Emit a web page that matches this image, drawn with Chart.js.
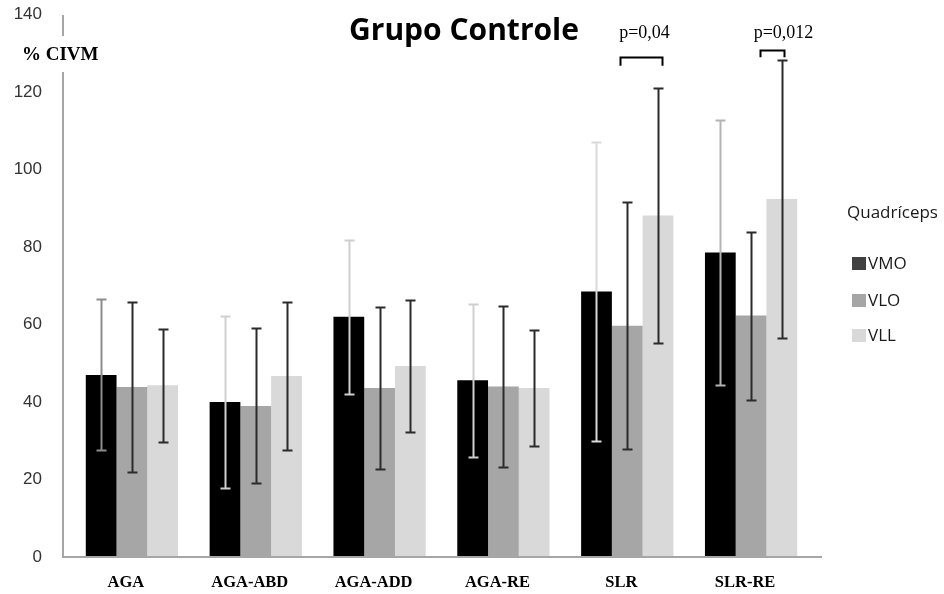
<!DOCTYPE html>
<html>
<head>
<meta charset="utf-8">
<script src="https://cdn.jsdelivr.net/npm/chart.js@4"></script>
<style>
  html, body { margin: 0; padding: 0; background: #fff; }
  #wrap { width: 944px; height: 594px; }
</style>
</head>
<body>
<div id="wrap"><canvas id="myChart"></canvas></div>
<script>
const categories = ['AGA', 'AGA-ABD', 'AGA-ADD', 'AGA-RE', 'SLR', 'SLR-RE'];
const seriesNames = ['VMO', 'VLO', 'VLL'];

// means (% CIVM)
const vmo = [47.0, 40.0, 62.0, 45.6, 68.5, 78.6];
const vlo = [43.9, 39.0, 43.6, 44.0, 59.7, 62.3];
const vll = [44.3, 46.7, 49.3, 43.6, 88.1, 92.4];

// standard deviations (error bar half-length)
const vmoSd = [19.5, 22.2, 19.9, 19.8, 38.6, 34.3];
const vloSd = [22.0, 20.0, 20.8, 20.9, 31.8, 21.7];
const vllSd = [14.6, 19.2, 17.1, 15.0, 33.0, 35.8];

const yTicks = [0, 20, 40, 60, 80, 100, 120, 140];

// significance brackets
const brackets = [
  { cat: 4, text: 'p=0,04', top: 129.1, leg: 126.8, dx1: -7, dx2: 4, dt: 3 },
  { cat: 5, text: 'p=0,012', top: 130.8, leg: 129.0, dx1: 9, dx2: 2, dt: 11 }
];

const barColors = ['#000000', '#a6a6a6', '#d9d9d9'];
const vmoErrColors = ['#8c8c8c', '#cfcfcf', '#cfcfcf', '#cfcfcf', '#dadada', '#b4b4b4'];

const extras = {
  id: 'extras',
  afterDatasetsDraw(chart) {
    const ctx = chart.ctx;
    const y = chart.scales.y;
    const sds = [vmoSd, vloSd, vllSd];
    ctx.save();

    // axis lines (Excel-style: y axis a bit left of the first group)
    const y0 = Math.round(y.getPixelForValue(0));
    const yTop = Math.round(y.getPixelForValue(140));
    ctx.strokeStyle = '#a6a6a6';
    ctx.lineWidth = 2;
    ctx.beginPath();
    ctx.moveTo(63, yTop); ctx.lineTo(63, y0);
    ctx.moveTo(62, y0); ctx.lineTo(822, y0);
    ctx.stroke();

    chart.data.datasets.forEach((ds, d) => {
      const meta = chart.getDatasetMeta(d);
      meta.data.forEach((bar, i) => {
        const v = ds.data[i];
        const sd = sds[d][i];
        const yt = Math.round(y.getPixelForValue(v + sd)) + 0.5;
        const yb = Math.round(y.getPixelForValue(v - sd)) + 0.5;
        const x = Math.round(bar.x) + 0.5;
        ctx.strokeStyle = d === 0 ? vmoErrColors[i] : '#2b2b2b';
        ctx.lineWidth = 2;
        ctx.beginPath();
        ctx.moveTo(x, yt); ctx.lineTo(x, yb);
        ctx.moveTo(x - 5, yt); ctx.lineTo(x + 5, yt);
        ctx.moveTo(x - 5, yb); ctx.lineTo(x + 5, yb);
        ctx.stroke();
      });
    });

    // brackets
    brackets.forEach(b => {
      const x1 = Math.round(chart.getDatasetMeta(1).data[b.cat].x + b.dx1) + 0.5;
      const x2 = Math.round(chart.getDatasetMeta(2).data[b.cat].x + b.dx2) + 0.5;
      const yt = Math.round(y.getPixelForValue(b.top)) + 0.5;
      const yl = y.getPixelForValue(b.leg);
      ctx.strokeStyle = '#000';
      ctx.lineWidth = 2;
      ctx.beginPath();
      ctx.moveTo(x1, yl); ctx.lineTo(x1, yt); ctx.lineTo(x2, yt); ctx.lineTo(x2, yl);
      ctx.stroke();
      ctx.fillStyle = '#000';
      ctx.font = '18px "Liberation Serif"';
      ctx.textAlign = 'center';
      ctx.textBaseline = 'middle';
      ctx.fillText(b.text, (x1 + x2) / 2 + b.dt, 33);
    });

    // title
    ctx.font = 'bold 30px "Open Sans"';
    ctx.fillStyle = '#000';
    ctx.textAlign = 'center';
    ctx.textBaseline = 'middle';
    ctx.fillText('Grupo Controle', 464, 31);

    // y axis title over the axis line
    ctx.fillStyle = '#fff';
    ctx.fillRect(20, 36, 82, 36);
    ctx.fillStyle = '#000';
    ctx.font = 'bold 19px "Liberation Serif"';
    ctx.textAlign = 'left';
    ctx.fillText('% CIVM', 22, 55);

    // legend
    ctx.font = '17px "Open Sans"';
    ctx.fillStyle = '#1a1a1a';
    ctx.fillText('Quadríceps', 847, 213);
    const ly = [264, 301, 336];
    seriesNames.forEach((n, i) => {
      ctx.fillStyle = i === 0 ? '#404040' : barColors[i];
      ctx.fillRect(852, ly[i] - 7, 14, 13);
      ctx.fillStyle = '#1a1a1a';
      ctx.fillText(n, 868, ly[i]);
    });
    ctx.restore();
  }
};

new Chart(document.getElementById('myChart'), {
  type: 'bar',
  data: {
    labels: categories,
    datasets: [
      { label: seriesNames[0], data: vmo, backgroundColor: barColors[0] },
      { label: seriesNames[1], data: vlo, backgroundColor: barColors[1] },
      { label: seriesNames[2], data: vll, backgroundColor: barColors[2] }
    ]
  },
  options: {
    responsive: true,
    maintainAspectRatio: false,
    animation: false,
    layout: { padding: { top: 14.5, right: 131, left: 0, bottom: 0 } },
    datasets: { bar: { barPercentage: 1, categoryPercentage: 0.745 } },
    plugins: {
      legend: { display: false },
      title: { display: false },
      tooltip: { enabled: false }
    },
    scales: {
      x: {
        grid: { display: false, drawTicks: false },
        border: { display: false },
        ticks: {
          padding: 16,
          labelOffset: -6,
          color: '#000',
          font: { family: 'Liberation Serif', size: 16.5, weight: 'bold' }
        },
        afterFit(scale) { scale.height = 37; }
      },
      y: {
        min: 0,
        max: 140,
        afterBuildTicks(scale) { scale.ticks = yTicks.map(v => ({ value: v })); },
        grid: { display: false, drawTicks: false },
        border: { display: false },
        ticks: {
          padding: 28,
          color: '#333',
          font: { family: 'Liberation Sans', size: 17 }
        },
        afterFit(scale) {
          scale.width = 70;
          scale.paddingTop = 0;
          scale.paddingBottom = 0;
        }
      }
    }
  },
  plugins: [extras]
});
</script>
</body>
</html>
